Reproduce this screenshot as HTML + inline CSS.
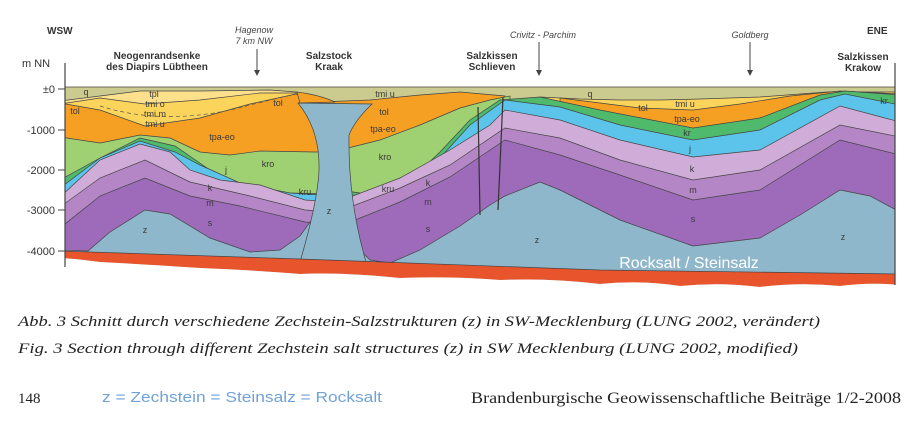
<!DOCTYPE html>
<html><head><meta charset="utf-8"><style>
html,body{margin:0;padding:0;background:#fff;}
svg{display:block;}
.l{font-family:"Liberation Sans",sans-serif;font-size:9px;fill:#3a3a3a;}
.h{font-family:"Liberation Sans",sans-serif;font-size:10px;font-weight:bold;fill:#333;}
.ax{font-family:"Liberation Sans",sans-serif;font-size:11px;fill:#333;}
.it{font-family:"Liberation Sans",sans-serif;font-size:9px;font-style:italic;fill:#444;}
.cap{font-family:"Liberation Serif",serif;font-size:15px;font-style:italic;fill:#222;}
</style></head><body>
<svg width="920" height="424" viewBox="0 0 920 424" xmlns="http://www.w3.org/2000/svg">
<defs><clipPath id="c"><rect x="65" y="86" width="830" height="210"/></clipPath></defs>
<g clip-path="url(#c)" stroke="#444" stroke-width="0.7">
<polygon fill="#cccb8f" points="60,87 900,87 900,300 60,300"/>
<polygon fill="#fde08c" points="60,101 100,96 140,91 200,91 270,90 296,92 330,100 330,300 60,300"/>
<polygon fill="#fbd45c" points="60,104 100,98 145,104 200,100 260,93 296,93 330,100 330,300 60,300"/>
<polygon fill="#f6a023" points="60,103 100,110 145,126 200,118 250,104 296,94 330,100 330,300 60,300"/>
<polygon fill="#f6a023" points="320,102 370,100 420,95 460,92 505,96 505,300 320,300"/>
<polygon fill="#fbd45c" points="540,97 580,99 620,100 660,100 700,99 760,97 827,92 895,92 900,300 540,300"/>
<polygon fill="#f6a023" points="560,98 600,103 640,108 693,110 740,104 790,96 840,91 900,94 900,300 560,300"/>
<polygon fill="#9fd071" points="60,137 100,143 140,135 170,138 200,152 230,155 260,151 315,152 335,152 335,300 60,300"/>
<polygon fill="#9fd071" points="320,152 340,150 380,140 420,125 460,108 490,100 510,96 510,300 320,300"/>
<polygon fill="#4fb96c" points="60,180 100,158 140,138 175,146 210,170 240,186 290,193 335,194 335,300 60,300"/>
<polygon fill="#4fb96c" points="320,190 340,190 380,196 405,185 440,152 470,120 500,100 540,97 600,110 693,128 760,118 820,95 845,91 900,95 900,300 320,300"/>
<polygon fill="#5cc4ea" points="60,188 100,158 140,141 175,152 200,165 240,183 290,193 335,196 335,300 60,300"/>
<polygon fill="#5cc4ea" points="405,186 440,158 470,125 505,100 560,107 620,125 693,140 760,130 820,100 845,94 900,105 900,300 405,300"/>
<polygon fill="#d0acd8" points="60,197 100,160 140,144 170,152 190,170 220,180 260,185 305,200 335,202 335,300 60,300"/>
<polygon fill="#d0acd8" points="320,197 350,197 400,178 450,150 490,125 505,110 560,120 620,140 693,157 760,150 840,106 900,122 900,300 320,300"/>
<polygon fill="#b486c5" points="60,207 100,178 145,160 190,182 250,196 305,210 335,212 335,300 60,300"/>
<polygon fill="#b486c5" points="320,207 350,207 400,188 450,165 505,128 560,138 620,160 693,180 760,170 840,125 900,137 900,300 320,300"/>
<polygon fill="#9d6bb9" points="60,228 100,196 145,178 190,196 240,206 305,222 335,224 335,300 60,300"/>
<polygon fill="#9d6bb9" points="320,222 350,222 400,202 450,177 505,140 560,155 620,175 693,200 760,190 840,140 900,155 900,300 320,300"/>
<polygon fill="#8fb7cb" points="60,250 88,251 110,232 145,210 170,214 210,238 250,252 280,250 300,236 310,222 320,300 60,300"/>
<polygon fill="#8fb7cb" points="355,245 370,260 390,263 420,250 460,226 490,205 505,196 540,182 560,190 620,220 693,246 760,238 800,215 840,190 870,196 900,212 900,300 355,300"/>
<path fill="#8fb7cb" d="M298,103 L372,104 Q355,120 349,135 Q348,200 366,262 L300,262 Q318,200 319,170 Q320,130 298,103 Z"/>
<path fill="#f6a023" d="M297,92 Q320,95 335,102 L300,103 Z"/>
<path fill="#e8552c" stroke="none" d="M60,251 L300,259 L600,270 L900,274 L900,285 Q870,282 840,286 Q800,282 760,287 Q720,282 680,286 Q640,280 600,284 Q550,278 500,280 Q450,276 400,278 Q340,272 300,274 Q250,270 200,268 Q140,264 100,262 Q80,259 60,258 Z"/>
<path fill="#fff" stroke="none" d="M60,258 Q80,259 100,262 Q140,264 200,268 Q250,270 300,274 Q340,272 400,278 Q450,276 500,280 Q550,278 600,284 Q640,280 680,286 Q720,282 760,287 Q800,282 840,286 Q870,282 900,285 L900,300 L60,300 Z"/>
<path fill="none" stroke="#444" d="M60,251 L300,259 L600,270 L900,274"/>
<line x1="478" y1="107" x2="480" y2="215" stroke="#333" stroke-width="1.2"/>
<line x1="503" y1="97" x2="498" y2="210" stroke="#333" stroke-width="1.2"/>
<path d="M100,106 Q160,125 230,110 Q270,100 296,94" fill="none" stroke="#555" stroke-dasharray="4,3"/>
</g>
<line x1="65" y1="63" x2="65" y2="267" stroke="#444" stroke-width="1.2"/>
<line x1="895" y1="63" x2="895" y2="285" stroke="#444" stroke-width="1.2"/>
<g stroke="#444"><line x1="58" y1="89" x2="65" y2="89"/><line x1="58" y1="130" x2="65" y2="130"/><line x1="58" y1="170" x2="65" y2="170"/><line x1="58" y1="210" x2="65" y2="210"/><line x1="58" y1="251" x2="65" y2="251"/></g>
<g class="ax" text-anchor="end"><text x="55" y="93">±0</text><text x="55" y="134">-1000</text><text x="55" y="174">-2000</text><text x="55" y="214">-3000</text><text x="55" y="255">-4000</text></g>
<text class="ax" x="22" y="67">m NN</text>
<text class="h" x="47" y="34" font-size="12">WSW</text>
<text class="h" x="867" y="34" font-size="12">ENE</text>
<g class="h" text-anchor="middle"><text x="157" y="59">Neogenrandsenke</text><text x="157" y="70">des Diapirs Lübtheen</text>
<text x="329" y="59">Salzstock</text><text x="329" y="70">Kraak</text>
<text x="492" y="59">Salzkissen</text><text x="492" y="70">Schlieven</text>
<text x="863" y="60">Salzkissen</text><text x="863" y="71">Krakow</text></g>
<g class="it" text-anchor="middle"><text x="254" y="33">Hagenow</text><text x="254" y="44">7 km NW</text>
<text x="543" y="38">Crivitz - Parchim</text><text x="750" y="38">Goldberg</text></g>
<g stroke="#444"><line x1="257" y1="49" x2="257" y2="73"/><line x1="539" y1="42" x2="539" y2="73"/><line x1="750" y1="42" x2="750" y2="73"/></g>
<g fill="#444"><polygon points="254,70 260,70 257,76"/><polygon points="536,70 542,70 539,76"/><polygon points="747,70 753,70 750,76"/></g>
<g class="l" text-anchor="middle">
<text x="86" y="95">q</text><text x="154" y="97">tpl</text><text x="155" y="107">tmi o</text><text x="155" y="117">tmi m</text><text x="155" y="127">tmi u</text>
<text x="75" y="114">tol</text><text x="278" y="106">tol</text><text x="222" y="140">tpa-eo</text><text x="268" y="167">kro</text>
<text x="226" y="173">j</text><text x="210" y="191">k</text><text x="210" y="206">m</text><text x="210" y="226">s</text><text x="145" y="233">z</text>
<text x="305" y="195">kru</text><text x="329" y="214">z</text>
<text x="385" y="97">tmi u</text><text x="384" y="115">tol</text><text x="383" y="132">tpa-eo</text><text x="385" y="160">kro</text><text x="388" y="192">kru</text>
<text x="428" y="186">k</text><text x="428" y="205">m</text><text x="428" y="232">s</text><text x="537" y="243">z</text>
<text x="590" y="97">q</text><text x="643" y="111">tol</text><text x="685" y="107">tmi u</text><text x="687" y="122">tpa-eo</text><text x="687" y="136">kr</text>
<text x="690" y="152">j</text><text x="692" y="172">k</text><text x="693" y="193">m</text><text x="693" y="222">s</text><text x="843" y="240">z</text><text x="884" y="104">kr</text>
</g>
<text x="689" y="268" font-family="Liberation Sans,sans-serif" font-size="16" fill="#fff" text-anchor="middle">Rocksalt / Steinsalz</text>
<text class="cap" x="18" y="326" textLength="802" lengthAdjust="spacingAndGlyphs">Abb. 3   Schnitt durch verschiedene Zechstein-Salzstrukturen (z) in SW-Mecklenburg (LUNG 2002, verändert)</text>
<text class="cap" x="18" y="353" textLength="780" lengthAdjust="spacingAndGlyphs">Fig. 3   Section through different Zechstein salt structures (z) in SW Mecklenburg (LUNG 2002, modified)</text>
<text x="18" y="403" font-family="Liberation Serif,serif" font-size="15" fill="#222">148</text>
<text x="102" y="402" font-family="Liberation Sans,sans-serif" font-size="15" fill="#6fa3d8" textLength="280" lengthAdjust="spacingAndGlyphs">z = Zechstein = Steinsalz = Rocksalt</text>
<text x="471" y="403" font-family="Liberation Serif,serif" font-size="16" fill="#222" textLength="430" lengthAdjust="spacingAndGlyphs">Brandenburgische Geowissenschaftliche Beiträge 1/2-2008</text>
</svg>
</body></html>
